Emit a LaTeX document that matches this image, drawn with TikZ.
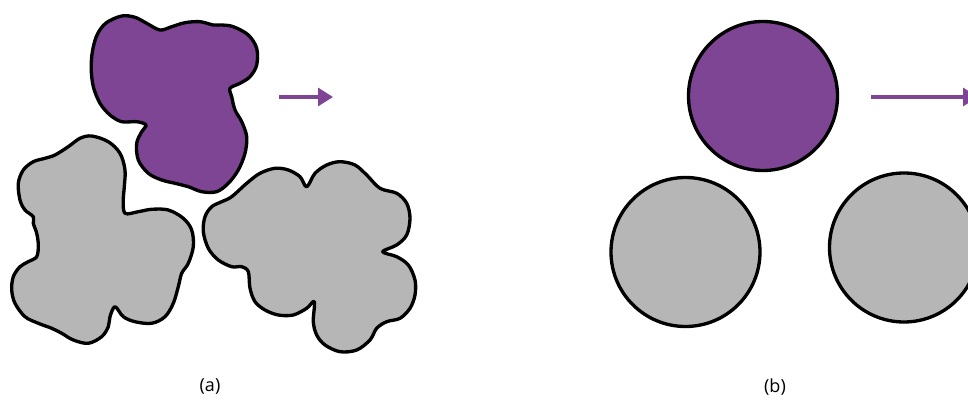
\documentclass[tikz,border=0pt]{standalone}
\usepackage{xcolor}
\usepackage{fontspec}
\setmainfont{Open Sans}
\usepackage{tikz}
\usetikzlibrary{arrows.meta}
\definecolor{lila}{HTML}{7F4595}
\definecolor{grau}{HTML}{B6B6B6}

\begin{document}
\begin{tikzpicture}[
    x=0.75pt, y=-0.75pt,
    klumpen/.style={draw=black, line width=2.5pt, line join=round},
    kugel/.style={circle, draw=black, line width=2.5pt, inner sep=0pt, minimum size=111.75pt},
    pfeil/.style={-{Triangle[length=11.25pt, width=13.5pt]}, line width=2.4pt, lila},
    marke/.style={font=\fontsize{13.5}{16}\selectfont}
  ]
    \useasboundingbox (0,0) rectangle (968,402);
    \clip (0,0) rectangle (968,402);
    % (a) unregelmaessige Teilchen
    \draw[klumpen, fill=lila] plot[smooth cycle, tension=0.55] coordinates {
      (97,35) (106,23) (121.7,16) (135,17.3) (146.7,23.3) (160,30) (171.7,26.7) (185,22.7)
      (200,21.7) (213.3,25) (221.7,25) (233.3,26.7) (248.3,35) (256.7,48.3) (256.7,65) (250,76.7)
      (240,83.3) (230,88.3) (231.7,96.7) (235,110) (241.7,121.7) (246.7,136.7) (245,153.3) (238.3,170)
      (228.3,183.3) (216.7,191.7) (201.7,191.7) (188.3,186.7) (175,183.3) (161.7,180) (148.3,173.3)
      (138.3,160) (136.7,143.3) (141.7,131.7) (146,125) (136.7,121.7) (121.7,121.7) (110,115)
      (100,103.3) (93.3,86.7) (91.2,68.3) (92.5,51)};
    \draw[klumpen, fill=grau] plot[smooth cycle, tension=0.55] coordinates {
      (91.7,136) (108.3,141.7) (120,153.3) (125,170) (124.3,186.7) (123.3,200) (125,213.3)
      (138.3,211.7) (151.7,209.3) (168.3,210) (183.3,218.3) (191.7,230) (193.3,246.7) (188.3,263.3)
      (181.7,273.3) (178.3,286.7) (173.3,303.3) (165,316.7) (151.7,323.3) (135,321.7) (123.3,316.7)
      (115,306.7) (110,316.7) (108.3,326.7) (101.7,336.7) (88.3,343.3) (73.3,340) (61.7,333.3)
      (51.7,328.3) (38.3,323.3) (25,316.7) (15,303.3) (11.7,290) (13.3,276.7) (20,266.7) (28.3,261.7)
      (36.7,256.7) (38.3,245) (36.7,233.3) (33.3,223.3) (33.3,216.7) (25,210) (20,200) (18.3,183.3)
      (23.3,170) (33.3,161.7) (45,158.3) (55,155) (68.3,146.7) (80,138.3)};
    \draw[klumpen, fill=grau] plot[smooth cycle, tension=0.55] coordinates {
      (231.7,196.7) (246.7,183.3) (260,173.3) (275,168.3) (288.3,170) (300,176.7) (306.7,186.7)
      (315,173.3) (326.7,165) (340,161.7) (355,165) (366.7,175) (380,188.3) (396.7,193.3) (406.7,203.3)
      (410,218.3) (406.7,235) (396.7,245) (382.7,251.7) (396.7,256.7) (408.3,265) (415,280) (415,295)
      (410,308.3) (400,318.3) (386.7,321.7) (376.7,328.3) (370,340) (356.7,350) (340,351.7) (325,345)
      (316.7,335) (313.3,321.7) (314.3,301.7) (306.7,308.3) (293.3,315) (278.3,315) (265,310)
      (255,301.7) (250,288.3) (248.3,271.7) (241.7,266.7) (231.7,266.7) (218.3,260) (208.3,248.3)
      (203.3,231.7) (205,216.7) (211.7,206.7) (221.7,201.7)};
    \coordinate (avon) at (279,97);
    \coordinate (anach) at (333,97);
    \draw[pfeil] (avon) -- (anach);
    \node[marke] (la) at (210,387) {(a)};
    % (b) Kugeln
    \node[kugel, fill=lila] (oben) at (763,96) {};
    \node[kugel, fill=grau] (links) at (685.5,252) {};
    \node[kugel, fill=grau] (rechts) at (904,247.5) {};
    \coordinate (bvon) at (871,97);
    \coordinate (bnach) at (978,97);
    \draw[pfeil] (bvon) -- (bnach);
    \node[marke] (lb) at (775,387) {(b)};
\end{tikzpicture}
\end{document}
